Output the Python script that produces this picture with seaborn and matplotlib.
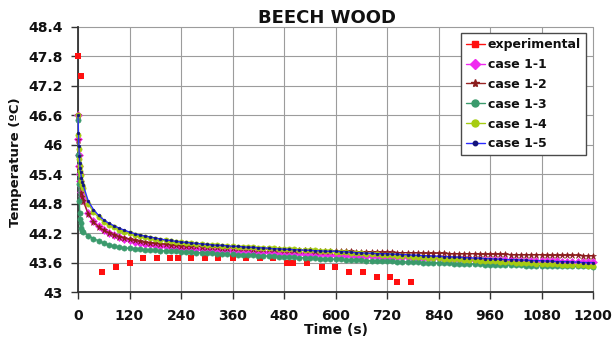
import matplotlib
matplotlib.use("Agg")
import matplotlib.pyplot as plt
from matplotlib.lines import Line2D
import seaborn as sns
import pandas as pd

# Sample times of the simulated cases (s)
time_s = [0, 1, 2, 3, 4, 5, 6, 8, 10,
          12, 24, 36, 48, 60, 72, 84, 96, 108, 120,
          132, 144, 156, 168, 180, 192, 204, 216, 228, 240,
          252, 264, 276, 288, 300, 312, 324, 336, 348, 360,
          372, 384, 396, 408, 420, 432, 444, 456, 468, 480,
          492, 504, 516, 528, 540, 552, 564, 576, 588, 600,
          612, 624, 636, 648, 660, 672, 684, 696, 708, 720,
          732, 744, 756, 768, 780, 792, 804, 816, 828, 840,
          852, 864, 876, 888, 900, 912, 924, 936, 948, 960,
          972, 984, 996, 1008, 1020, 1032, 1044, 1056, 1068, 1080,
          1092, 1104, 1116, 1128, 1140, 1152, 1164, 1176, 1188, 1200]

case_1_1 = [46.60, 46.12, 45.80, 45.57, 45.40, 45.27, 45.17, 45.04, 44.95,
            44.88, 44.60, 44.45, 44.35, 44.27, 44.21, 44.16, 44.12, 44.08, 44.05,
            44.02, 44.00, 43.98, 43.97, 43.95, 43.94, 43.93, 43.92, 43.91, 43.90,
            43.89, 43.89, 43.88, 43.87, 43.87, 43.86, 43.86, 43.85, 43.85, 43.84,
            43.84, 43.83, 43.83, 43.82, 43.82, 43.82, 43.81, 43.81, 43.80, 43.80,
            43.80, 43.79, 43.79, 43.78, 43.78, 43.78, 43.77, 43.77, 43.76, 43.76,
            43.76, 43.75, 43.75, 43.74, 43.74, 43.74, 43.73, 43.73, 43.72, 43.72,
            43.72, 43.71, 43.71, 43.71, 43.70, 43.70, 43.70, 43.69, 43.69, 43.69,
            43.68, 43.68, 43.68, 43.67, 43.67, 43.67, 43.66, 43.66, 43.66, 43.66,
            43.65, 43.65, 43.65, 43.65, 43.64, 43.64, 43.64, 43.64, 43.63, 43.63,
            43.63, 43.63, 43.63, 43.62, 43.62, 43.62, 43.62, 43.62, 43.61, 43.61]

case_1_2 = [46.60, 46.10, 45.78, 45.55, 45.38, 45.25, 45.15, 45.02, 44.93,
            44.86, 44.58, 44.43, 44.33, 44.26, 44.21, 44.17, 44.13, 44.10, 44.07,
            44.05, 44.03, 44.01, 44.00, 43.99, 43.98, 43.97, 43.96, 43.95, 43.94,
            43.94, 43.93, 43.93, 43.92, 43.92, 43.91, 43.91, 43.90, 43.90, 43.90,
            43.89, 43.89, 43.89, 43.88, 43.88, 43.88, 43.87, 43.87, 43.87, 43.86,
            43.86, 43.86, 43.85, 43.85, 43.85, 43.84, 43.84, 43.84, 43.84, 43.83,
            43.83, 43.83, 43.83, 43.82, 43.82, 43.82, 43.82, 43.81, 43.81, 43.81,
            43.81, 43.80, 43.80, 43.80, 43.80, 43.80, 43.79, 43.79, 43.79, 43.79,
            43.79, 43.78, 43.78, 43.78, 43.78, 43.78, 43.78, 43.77, 43.77, 43.77,
            43.77, 43.77, 43.77, 43.76, 43.76, 43.76, 43.76, 43.76, 43.76, 43.76,
            43.75, 43.75, 43.75, 43.75, 43.75, 43.75, 43.75, 43.74, 43.74, 43.74]

case_1_3 = [46.50, 45.80, 45.20, 44.85, 44.62, 44.48, 44.40, 44.30, 44.25,
            44.22, 44.15, 44.09, 44.04, 44.00, 43.96, 43.93, 43.91, 43.90, 43.89,
            43.88, 43.87, 43.86, 43.86, 43.85, 43.84, 43.84, 43.83, 43.83, 43.82,
            43.81, 43.81, 43.80, 43.80, 43.79, 43.79, 43.78, 43.78, 43.77, 43.77,
            43.76, 43.76, 43.75, 43.75, 43.74, 43.74, 43.73, 43.73, 43.72, 43.72,
            43.71, 43.71, 43.70, 43.70, 43.69, 43.69, 43.68, 43.68, 43.67, 43.67,
            43.67, 43.66, 43.66, 43.65, 43.65, 43.64, 43.64, 43.64, 43.63, 43.63,
            43.63, 43.62, 43.62, 43.61, 43.61, 43.61, 43.60, 43.60, 43.60, 43.59,
            43.59, 43.59, 43.58, 43.58, 43.58, 43.57, 43.57, 43.57, 43.56, 43.56,
            43.56, 43.56, 43.55, 43.55, 43.55, 43.55, 43.54, 43.54, 43.54, 43.54,
            43.53, 43.53, 43.53, 43.53, 43.52, 43.52, 43.52, 43.52, 43.52, 43.51]

case_1_4 = [46.60, 46.20, 45.92, 45.72, 45.57, 45.46, 45.38, 45.27, 45.19,
            45.12, 44.80, 44.63, 44.52, 44.43, 44.37, 44.32, 44.27, 44.23, 44.20,
            44.17, 44.14, 44.12, 44.10, 44.08, 44.06, 44.05, 44.03, 44.02, 44.01,
            44.00, 43.99, 43.98, 43.97, 43.96, 43.96, 43.95, 43.94, 43.94, 43.93,
            43.92, 43.92, 43.91, 43.91, 43.90, 43.90, 43.89, 43.89, 43.88, 43.88,
            43.87, 43.87, 43.86, 43.86, 43.85, 43.85, 43.84, 43.84, 43.83, 43.82,
            43.82, 43.81, 43.80, 43.80, 43.79, 43.78, 43.78, 43.77, 43.76, 43.76,
            43.75, 43.74, 43.74, 43.73, 43.72, 43.72, 43.71, 43.70, 43.70, 43.69,
            43.68, 43.68, 43.67, 43.67, 43.66, 43.65, 43.65, 43.64, 43.64, 43.63,
            43.63, 43.62, 43.61, 43.61, 43.60, 43.60, 43.59, 43.59, 43.58, 43.58,
            43.57, 43.57, 43.57, 43.56, 43.56, 43.55, 43.55, 43.55, 43.54, 43.54]

case_1_5 = [46.60, 46.25, 45.98, 45.78, 45.63, 45.52, 45.44, 45.33, 45.25,
            45.18, 44.85, 44.68, 44.56, 44.47, 44.40, 44.35, 44.30, 44.26, 44.22,
            44.19, 44.16, 44.14, 44.12, 44.10, 44.08, 44.06, 44.05, 44.03, 44.02,
            44.01, 44.00, 43.99, 43.98, 43.97, 43.96, 43.95, 43.95, 43.94, 43.93,
            43.93, 43.92, 43.91, 43.91, 43.90, 43.90, 43.89, 43.88, 43.88, 43.87,
            43.87, 43.86, 43.86, 43.85, 43.85, 43.84, 43.84, 43.83, 43.83, 43.83,
            43.82, 43.82, 43.81, 43.80, 43.80, 43.79, 43.79, 43.78, 43.78, 43.78,
            43.77, 43.77, 43.76, 43.76, 43.75, 43.75, 43.74, 43.74, 43.73, 43.73,
            43.72, 43.72, 43.71, 43.71, 43.70, 43.70, 43.69, 43.69, 43.68, 43.68,
            43.67, 43.67, 43.66, 43.66, 43.66, 43.65, 43.65, 43.64, 43.64, 43.64,
            43.63, 43.63, 43.62, 43.62, 43.62, 43.61, 43.61, 43.60, 43.60, 43.60]

# Measured temperatures
exp_time = [0, 7, 55, 88, 120, 152, 183, 214, 234, 263, 296, 327, 360, 391,
            424, 455, 486, 501, 534, 568, 599, 631, 663, 696, 727, 744, 776]
exp_temp = [47.8, 47.4, 43.4, 43.5, 43.6, 43.7, 43.7, 43.7, 43.7, 43.7, 43.7,
            43.7, 43.7, 43.7, 43.7, 43.7, 43.6, 43.6, 43.6, 43.5, 43.5, 43.4,
            43.4, 43.3, 43.3, 43.2, 43.2]

x_ticks = [0, 120, 240, 360, 480, 600, 720, 840, 960, 1080, 1200]
y_ticks = [43, 43.6, 44.2, 44.8, 45.4, 46, 46.6, 47.2, 47.8, 48.4]
y_tick_labels = ["43", "43.6", "44.2", "44.8", "45.4", "46", "46.6", "47.2", "47.8", "48.4"]

sns.set_theme(style="white")
plt.rcParams["font.family"] = ["DejaVu Sans"]
plt.rcParams["font.weight"] = "bold"
plt.rcParams["axes.labelweight"] = "bold"

fig = plt.figure(figsize=(6.12, 3.45), dpi=100)
ax = fig.add_axes([78 / 612, 53 / 345, 515 / 612, 265 / 345])

# series: label, values, line colour, marker, marker size, marker colour
styles = [
    ("case 1-1", case_1_1, "#f028f0", "D", 3.6, "#f028f0"),
    ("case 1-2", case_1_2, "#9a2525", "*", 4.6, "#8a1c1c"),
    ("case 1-3", case_1_3, "#3a9a6c", "o", 3.8, "#3a9a6c"),
    ("case 1-4", case_1_4, "#a6cc10", "o", 3.8, "#a6cc10"),
    ("case 1-5", case_1_5, "#2a2aff", "o", 2.0, "#14147a"),
]

exp_pts = sns.scatterplot(x=exp_time, y=exp_temp, marker="s", s=20, color="#ff1010",
                          linewidth=0, ax=ax, zorder=3)
for coll in ax.collections:
    coll.set_clip_on(False)

for label, vals, lc, mk, ms, mc in styles:
    df = pd.DataFrame({"t": time_s, "T": vals})
    sns.lineplot(data=df, x="t", y="T", color=lc, linewidth=1.0, marker=mk,
                 markersize=ms, markerfacecolor=mc, markeredgecolor=mc,
                 markeredgewidth=0.4, estimator=None, sort=False, ax=ax, zorder=4)
for ln in ax.get_lines():
    ln.set_clip_on(False)

ax.set_xlim(0, 1200)
ax.set_ylim(43, 48.4)
ax.set_xticks(x_ticks)
ax.set_xticklabels([str(v) for v in x_ticks])
ax.set_yticks(y_ticks)
ax.set_yticklabels(y_tick_labels)

ax.grid(True, color="#9c9c9c", linewidth=0.8)
for gl in ax.get_xgridlines() + ax.get_ygridlines():
    gl.set_clip_on(False)
ax.set_axisbelow(True)

for side in ["top", "right"]:
    ax.spines[side].set_visible(False)
for side in ["left", "bottom"]:
    ax.spines[side].set_color("#333333")
    ax.spines[side].set_linewidth(1.3)

ax.tick_params(axis="both", which="major", direction="out", length=5, width=1.0,
               color="#333333", labelsize=10, labelcolor="#111111",
               left=True, bottom=True)
ax.tick_params(axis="y", pad=6)
ax.tick_params(axis="x", pad=7)

ax.set_title("BEECH WOOD", fontsize=13, fontweight="bold", color="#111111",
             x=(327 - 78) / 515, pad=3)

ax.set_xlabel("Time (s)", fontsize=10, color="#111111")
ax.xaxis.label.set_verticalalignment("center")
ax.xaxis.set_label_coords(0.5, (292 - 330) / 265)

ax.set_ylabel("Temperature (ºC)", fontsize=9.5, color="#111111")
ax.yaxis.label.set_rotation_mode("default")
ax.yaxis.label.set_verticalalignment("center")
ax.yaxis.label.set_horizontalalignment("center")
ax.yaxis.set_label_coords((15.5 - 78) / 515, 0.49)

handles = [Line2D([], [], color="#ff1010", marker="s", markersize=4.6, linewidth=1.0,
                  label="experimental")]
for label, vals, lc, mk, ms, mc in styles:
    handles.append(Line2D([], [], color=lc, marker=mk, markersize=ms + 1.2,
                          markerfacecolor=mc, markeredgecolor=mc, linewidth=1.0,
                          label=label))

leg = ax.legend(handles=handles, loc="upper left",
                bbox_to_anchor=((461 - 78) / 515, (292 - 33) / 265),
                borderaxespad=0, fontsize=9, frameon=True, fancybox=False,
                edgecolor="#4a4a4a", framealpha=1, handlelength=1.5,
                handletextpad=0.25, labelspacing=0.55, borderpad=0.4)
leg.get_frame().set_linewidth(1.0)
for txt in leg.get_texts():
    txt.set_color("#111111")

fig.savefig("out.png", dpi=100, facecolor="white")
